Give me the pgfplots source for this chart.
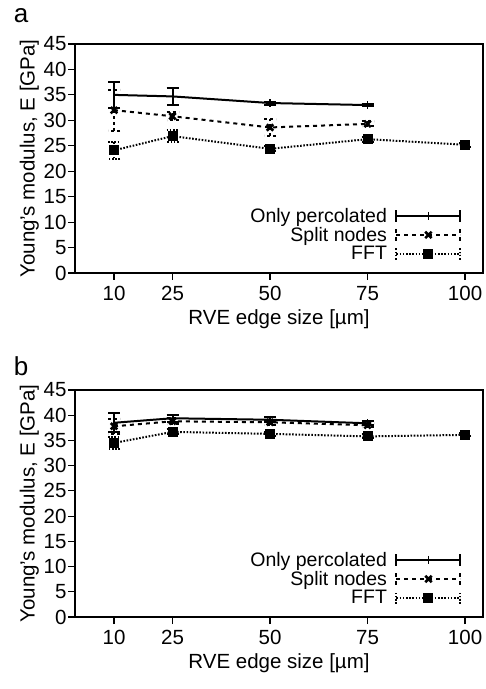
\documentclass[border=0pt]{standalone}
\usepackage{pgfplots}
\pgfplotsset{compat=1.18}
\usepackage{fontspec}
\setmainfont{Liberation Sans}

\newcommand{\fs}{\fontsize{20.5}{23}\selectfont}
\newcommand{\fl}{\fontsize{19.5}{21}\selectfont}

\pgfplotsset{
  modstyle/.style={
    scale only axis, width=408pt, height=229pt,
    xmin=0, xmax=104.6, ymin=0, ymax=45,
    xtick={10,25,50,75,100}, ytick={0,5,...,45},
    tick align=outside, tick pos=left,
    major tick length=7pt,
    tick style={line width=1.2pt, black},
    axis line style={line width=1.4pt},
    /pgf/number format/assume math mode=true,
    ticklabel style={font=\fs},
    label style={font=\fs},
    xticklabel style={yshift=-3pt},
    yticklabel style={xshift=2pt},
    xlabel={RVE edge size [µm]},
    ylabel={Young’s modulus, E [GPa]},
    xlabel style={yshift=-2pt},
    ylabel style={yshift=-2pt},
    legend cell align=right,
    legend plot pos=right,
    legend style={draw=none, fill=none, font=\fl,
      at={(0.955,0.04)}, anchor=south east, row sep=2.5pt, column sep=8pt,
      nodes={inner sep=0.5pt}},
    legend image code/.code={
      \draw[mark repeat=2,mark phase=2,##1] plot coordinates {(0pt,0pt) (32pt,0pt) (64pt,0pt)};
      \draw[##1,mark=none] (0pt,-6pt)--(0pt,6pt) (64pt,-6pt)--(64pt,6pt);
    },
  },
  percline/.style={black, line width=2pt, solid, mark=|, mark size=4pt,
    mark options={solid, line width=1.5pt}},
  splitline/.style={black, line width=2pt, dash pattern=on 4pt off 4pt, mark=x, mark size=4.5pt,
    mark options={solid, line width=2.6pt}},
  fftline/.style={black, line width=2pt, dash pattern=on 1.6pt off 1.6pt, mark=square*, mark size=4pt,
    mark options={solid}},
  perc/.style={percline,
    error bars/.cd, y dir=both, y explicit,
    error bar style={line width=2pt, solid},
    error mark options={rotate=90, mark size=6pt, line width=2pt, solid}},
  split/.style={splitline,
    error bars/.cd, y dir=both, y explicit,
    error bar style={line width=2pt, dash pattern=on 3pt off 3pt},
    error mark options={rotate=90, mark size=6pt, line width=2pt, dash pattern=on 3pt off 3pt}},
  fft/.style={fftline,
    error bars/.cd, y dir=both, y explicit,
    error bar style={line width=2pt, dash pattern=on 1.6pt off 1.6pt},
    error mark options={rotate=90, mark size=6pt, line width=2pt, dash pattern=on 1.6pt off 1.6pt}},
}

\pgfplotstableread{
x y e
10 35.0 2.5
25 34.7 1.7
50 33.4 0.3
75 33.0 0.2
}\percA
\pgfplotstableread{
x y e
10 32.0 4.0
25 30.8 0.8
50 28.6 1.6
75 29.3 0.5
}\splitA
\pgfplotstableread{
x y e
10 24.1 1.7
25 26.9 1.2
50 24.4 0.5
75 26.3 0.5
100 25.2 0.4
}\fftA
\pgfplotstableread{
x y e
10 38.5 1.9
25 39.4 0.7
50 39.1 0.5
75 38.4 0.4
}\percB
\pgfplotstableread{
x y e
10 37.8 1.5
25 38.8 0.6
50 38.6 0.5
75 38.0 0.4
}\splitB
\pgfplotstableread{
x y e
10 34.5 1.2
25 36.7 0.5
50 36.3 0.4
75 35.8 0.4
100 36.1 0.3
}\fftB

\begin{document}
\begin{tikzpicture}[x=1pt,y=1pt]
\useasboundingbox (0,0) rectangle (486,689);
\node[font=\fontsize{26}{28}\selectfont, anchor=center] at (21,673) {a};
\node[font=\fontsize{26}{28}\selectfont, anchor=center] at (21,323) {b};

\begin{axis}[modstyle, at={(75pt,416pt)}, anchor=south west]
\addplot[perc] table[x=x, y=y, y error=e] {\percA};
\addplot[split] table[x=x, y=y, y error=e] {\splitA};
\addplot[fft] table[x=x, y=y, y error=e] {\fftA};
\legend{}
\addlegendimage{percline}
\addlegendentry{Only percolated}
\addlegendimage{splitline}
\addlegendentry{Split nodes}
\addlegendimage{fftline}
\addlegendentry{FFT}
\end{axis}

\begin{axis}[modstyle, at={(75pt,72pt)}, anchor=south west, height=227pt]
\addplot[perc] table[x=x, y=y, y error=e] {\percB};
\addplot[split] table[x=x, y=y, y error=e] {\splitB};
\addplot[fft] table[x=x, y=y, y error=e] {\fftB};
\addlegendimage{percline}
\addlegendentry{Only percolated}
\addlegendimage{splitline}
\addlegendentry{Split nodes}
\addlegendimage{fftline}
\addlegendentry{FFT}
\end{axis}
\end{tikzpicture}
\end{document}
